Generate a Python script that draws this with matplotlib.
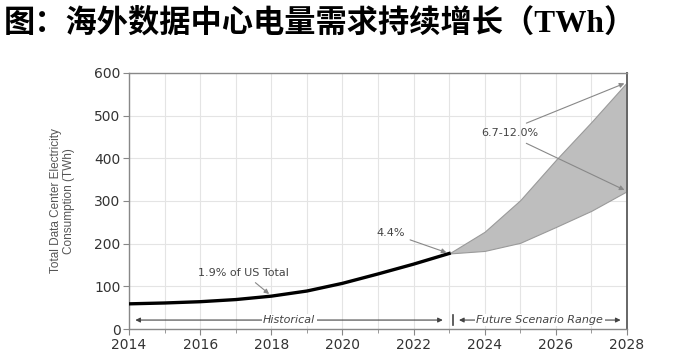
import matplotlib
matplotlib.use("Agg")
import matplotlib.pyplot as plt

hist_years = [2014, 2015, 2016, 2017, 2018, 2019, 2020, 2021, 2022, 2023]
hist_vals = [59, 61, 64, 69, 77, 89, 107, 129, 152, 177]
fut_years = [2023, 2024, 2025, 2026, 2027, 2028]
fut_low = [177, 183, 202, 239, 277, 323]
fut_high = [177, 228, 302, 396, 485, 578]
x_ticks = [2014, 2016, 2018, 2020, 2022, 2024, 2026, 2028]
y_ticks = [0, 100, 200, 300, 400, 500, 600]

title = "图：海外数据中心电量需求持续增长（TWh）"

fig = plt.figure(figsize=(6.92, 3.56), dpi=100)
fig.text(0.006, 0.933, title, fontsize=22.5, fontweight="bold",
         family=["Liberation Serif", "Noto Sans CJK SC", "DejaVu Sans"],
         va="center", ha="left")

ax = fig.add_axes([0.1864, 0.0758, 0.7196, 0.7192])
ax.fill_between(fut_years, fut_low, fut_high, facecolor="#bebebe",
                edgecolor="#9a9a9a", linewidth=0.8, zorder=2)
ax.plot(hist_years, hist_vals, color="black", linewidth=2.4, zorder=3)

ax.set_xlim(2014, 2028)
ax.set_ylim(0, 600)
ax.set_xticks(x_ticks)
ax.set_xticks(range(2014, 2029), minor=True)
ax.set_yticks(y_ticks)
ax.grid(True, which="both", color="#e4e4e4", linewidth=0.8, zorder=0)
ax.set_axisbelow(True)
for s in ax.spines.values():
    s.set_color("#888888")
    s.set_linewidth(1.0)
ax.spines["right"].set_color("#666666")
ax.spines["right"].set_linewidth(1.4)
ax.tick_params(axis="both", which="major", labelsize=10, colors="#888888",
               labelcolor="#333333", length=4)
ax.tick_params(axis="y", which="major", pad=2)
ax.tick_params(axis="x", which="major", pad=2.5)
ax.tick_params(axis="x", which="minor", length=3, colors="#888888")
ax.set_ylabel("Total Data Center Electricity\nConsumption (TWh)",
              fontsize=8.5, color="#555555", family="Liberation Sans",
              labelpad=14, linespacing=1.1)

ann_color = "#444444"
arrowp = dict(arrowstyle="-|>", color="#888888", lw=0.8, mutation_scale=7)
ax.annotate("1.9% of US Total", xy=(2018.0, 78), xytext=(2015.95, 131),
            fontsize=8, color=ann_color, va="center", ha="left",
            arrowprops=arrowp)
ax.annotate("4.4%", xy=(2023.0, 177), xytext=(2020.95, 225),
            fontsize=8, color=ann_color, va="center", ha="left",
            arrowprops=arrowp)
ax.text(2023.9, 459, "6.7-12.0%", fontsize=8, color=ann_color,
        va="center", ha="left")
ax.annotate("", xy=(2028.0, 578), xytext=(2025.1, 480), arrowprops=arrowp)
ax.annotate("", xy=(2028.0, 323), xytext=(2025.1, 438), arrowprops=arrowp)

rng = dict(arrowstyle="<|-|>", color="#444444", lw=0.8, mutation_scale=7)
ax.annotate("", xy=(2014.1, 21), xytext=(2022.9, 21), arrowprops=rng)
ax.text(2018.5, 21, "Historical", fontsize=8, style="italic", color="#444444",
        ha="center", va="center", bbox=dict(facecolor="white", edgecolor="none", pad=1))
ax.plot([2023.1, 2023.1], [10, 32], color="#444444", lw=1.2)
ax.annotate("", xy=(2023.2, 21), xytext=(2027.9, 21), arrowprops=rng)
ax.text(2025.55, 21, "Future Scenario Range", fontsize=8, style="italic",
        color="#444444", ha="center", va="center",
        bbox=dict(facecolor="white", edgecolor="none", pad=1))

fig.savefig("out.png", dpi=100)
